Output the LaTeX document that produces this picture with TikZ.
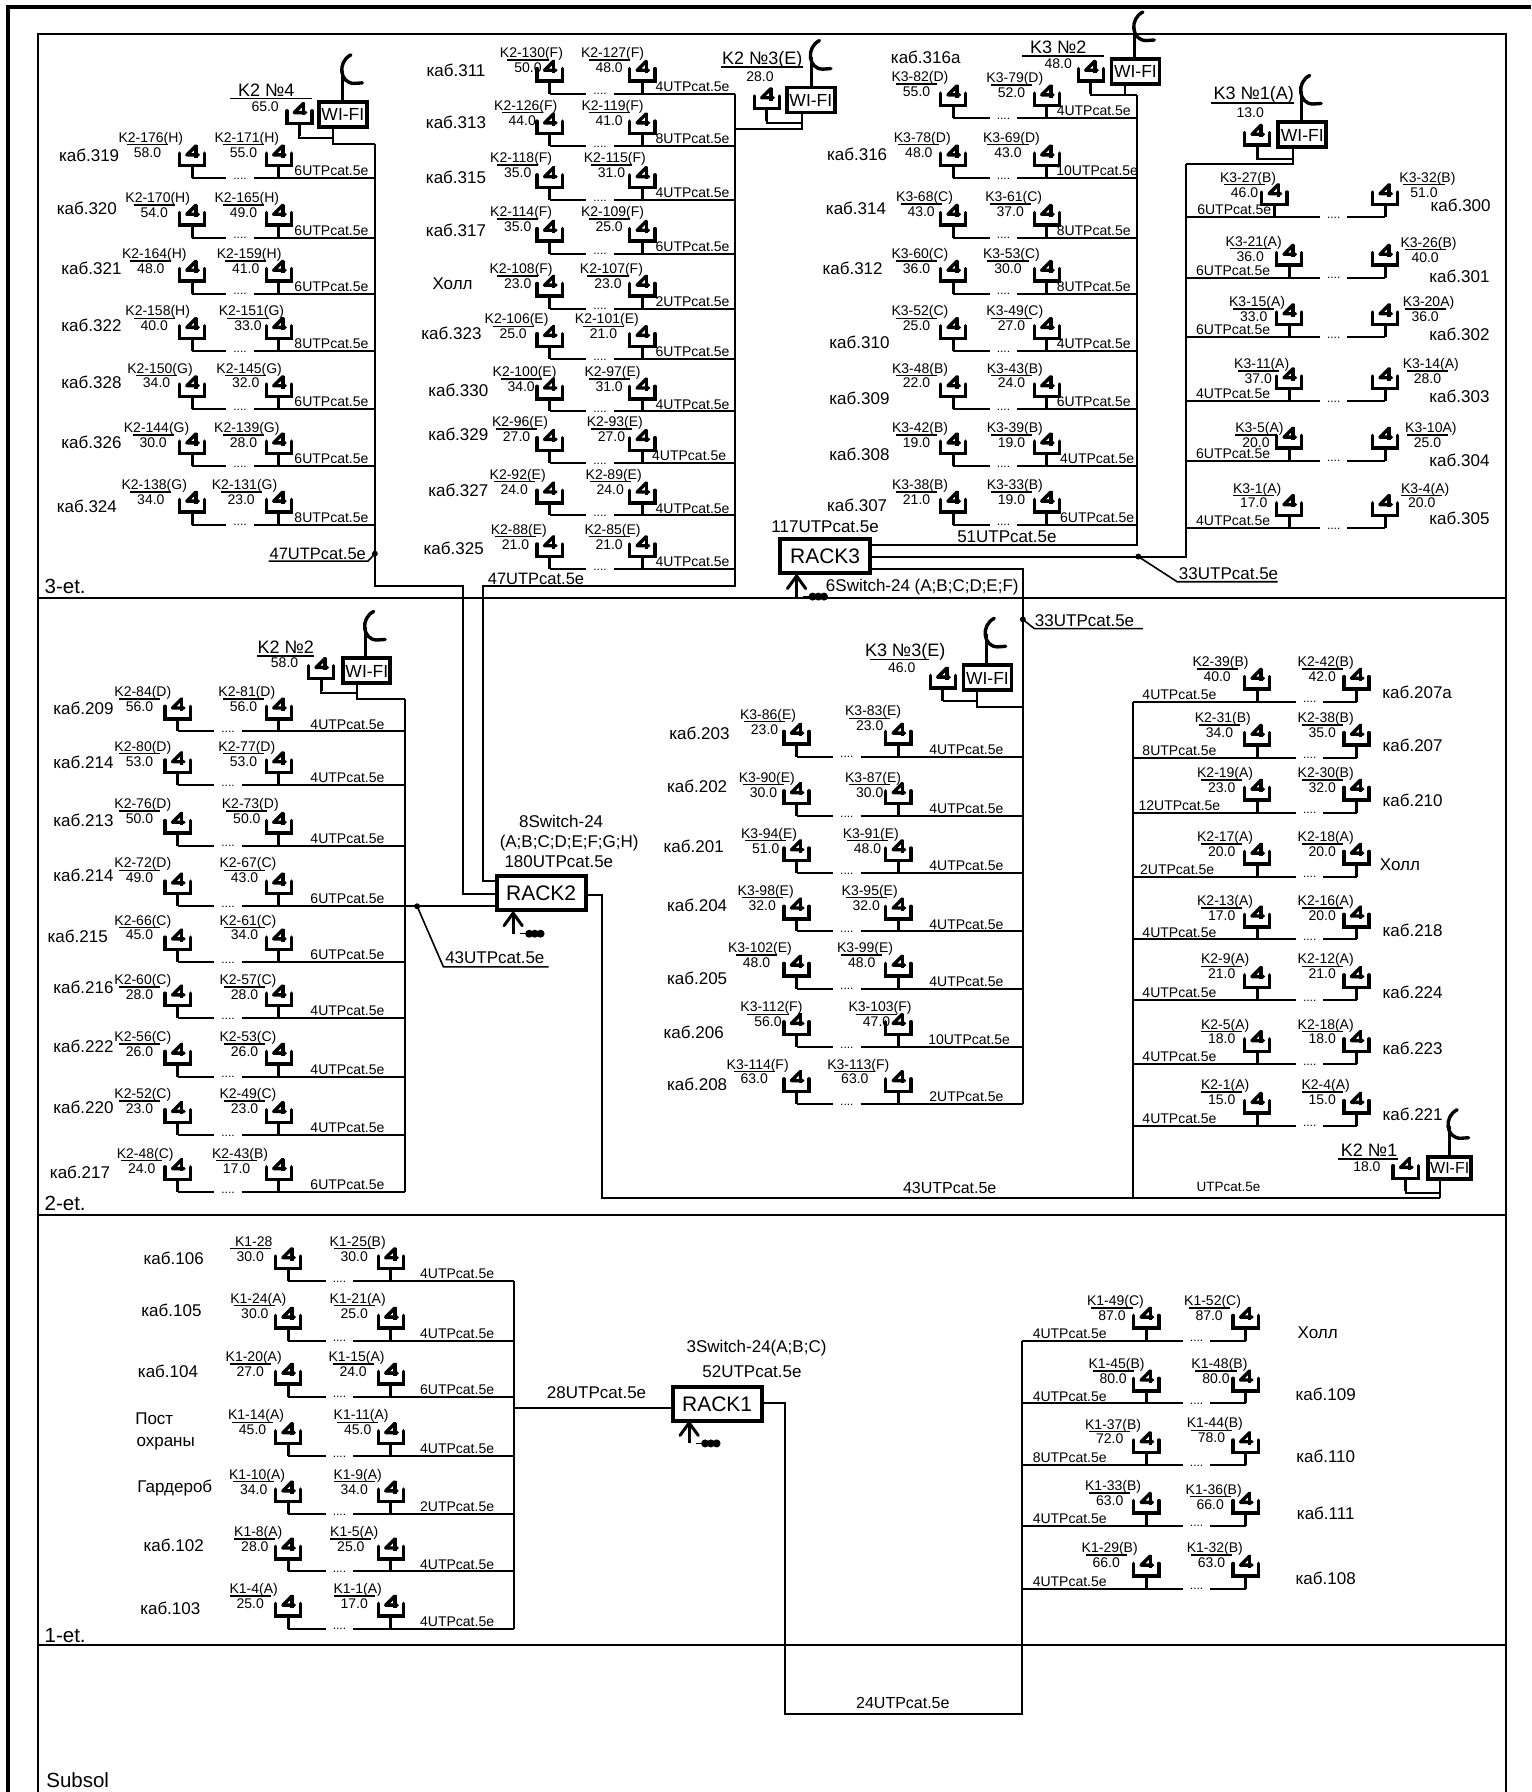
\documentclass[tikz,border=0pt]{standalone}
\usepackage{fontspec}
\setmainfont{Liberation Sans}
\tikzset{
 txt/.style={inner sep=0pt,text height=0.72*#1 pt,text depth=0pt,font=\fontsize{#1}{#1}\selectfont},
 rowline/.style={line width=2pt},
 trunk/.style={line width=2.1pt,line join=miter},
 wire/.style={line width=2.1pt,line join=miter},
 under/.style={line width=1.5pt},
 frame/.style={line width=2pt},
 boxn/.style 2 args={draw,line width=3.8pt,fill=white,inner sep=0pt,minimum width=#1 pt,minimum height=#2 pt},
 sock/.pic={
  \draw[line width=3.5pt,line cap=round,line join=miter] (-11,-22)--(-11,-11)--(11,-11)--(11,-22);
  \draw[line width=3pt] (0,-11)--(0,0);
  \draw[line width=3.4pt,line join=round,line cap=round] (3.5,-28.5)--(-4.5,-20.5)--(5.5,-20.5);
  \draw[line width=3.4pt,line cap=butt] (3.5,-29)--(3.5,-18);
 },
 antenna/.pic={
  \draw[line width=3.2pt] (0,0)--(0,-26);
  \draw[line width=3.4pt,line cap=round] (7,-40) .. controls (-5,-34) and (-3,-15) .. (10,-15) -- (17,-15.5);
 },
 upbar/.pic={
  \draw[line width=3pt] (0,0)--(0,-18);
  \draw[line width=3pt,line cap=round] (-8,-7)--(0,-18)--(8,-7);
  \draw[line width=.9pt] (6,0)--(11,0);
  \fill (14,0) circle (3.5) (19,0) circle (3.5) (24,0) circle (3.5);
 }
}
\newcommand\onerow{%
 \coordinate (\blk\i s) at (\startx,\y);
 \coordinate (\blk\i e) at (\endx,\y);
 \coordinate (\blk\i gl) at (\gapc-12,\y);
 \coordinate (\blk\i gr) at (\gapc+12,\y);
 \draw[rowline] (\blk\i s)--(\blk\i gl) (\blk\i gr)--(\blk\i e);
 \node[txt=12,text height=0pt,anchor=base] (\blk\i dots) at (\gapc,\y+1) {....};
 \pic at (\ax,\y) {sock};
 \pic at (\bx,\y) {sock};
 \node[txt=14] (\blk\i la) at (\alx,\aly) {\alt};
 \node[txt=14] (\blk\i va) at (\alx-3,\aly+13) {\av};
 \draw[under] (\alx-21,\aly+6.5)--(\alx+15,\aly+6.5);
 \node[txt=14] (\blk\i lb) at (\blx,\bly) {\blt};
 \node[txt=14] (\blk\i vb) at (\blx-3,\bly+13) {\bv};
 \draw[under] (\blx-21,\bly+6.5)--(\blx+15,\bly+6.5);
 \node[txt=17] (\blk\i r) at (\rmx,\rmy) {\rmn};
 \node[txt=14] (\blk\i c) at (\cx,\y-6.5) {\cab};
}
\newcommand\rows[2]{\def\gapc{#1}%
 \foreach \y/\ax/\alx/\aly/\alt/\av/\bx/\blx/\bly/\blt/\bv/\rmn/\rmx/\rmy/\cab/\cx [count=\i] in {#2} {\onerow}}
\newcommand\blockR[4]{\def\blk{#1}\def\startx{\ax}\def\endx{#3}\rows{#2}{#4}}
\newcommand\blockL[4]{\def\blk{#1}\def\startx{#3}\def\endx{\bx}\rows{#2}{#4}}
\newcommand\cu{UTPcat.5e}
\begin{document}
\begin{tikzpicture}[x=1.14328pt,y=-1.14328pt]
\useasboundingbox (0,0) rectangle (1340,1568);
% frames
\coordinate (o1) at (7,1568); \coordinate (o2) at (7,6); \coordinate (o3) at (1340,6);
\draw[line width=4.2pt,line join=miter] (o1)--(o2)--(o3);
\coordinate (f1) at (33.5,1568); \coordinate (f2) at (33.5,29.5); \coordinate (f3) at (1318,29.5); \coordinate (f4) at (1318,1568);
\draw[frame] (f1)--(f2)--(f3)--(f4);
\foreach \fy in {523,1063,1439}{\coordinate (fl\fy) at (33.5,\fy); \coordinate (fr\fy) at (1318,\fy); \draw[frame] (fl\fy)--(fr\fy);}
\node[txt=20.5] (et3) at (57,513) {3-et.};
\node[txt=20.5] (et2) at (57,1053) {2-et.};
\node[txt=20.5] (et1) at (57,1431) {1-et.};
\node[txt=20.5] (et0) at (68,1558) {Subsol};

% block A
\blockR{A}{210}{328}{
156/168/132/120/K2-176(H)/58.0/244/216/120/K2-171(H)/55.0/каб.319/78/136/6\cu/290,
208/168/138/173/K2-170(H)/54.0/244/216/173/K2-165(H)/49.0/каб.320/76/182/6\cu/290,
257/168/135/222/K2-164(H)/48.0/244/218/222/K2-159(H)/41.0/каб.321/80/235/6\cu/290,
307/168/138/272/K2-158(H)/40.0/244/220/272/K2-151(G)/33.0/каб.322/80/285/8\cu/290,
358/168/140/322/K2-150(G)/34.0/244/218/322/K2-145(G)/32.0/каб.328/80/335/6\cu/290,
408/168/137/374/K2-144(G)/30.0/244/216/374/K2-139(G)/28.0/каб.326/80/387/6\cu/290,
459/168/135/424/K2-138(G)/34.0/244/214/424/K2-131(G)/23.0/каб.324/76/443/8\cu/290}
% block B
\blockR{B}{525}{643}{
82/481/465/46/K2-130(F)/50.0/562/536/46/K2-127(F)/48.0/каб.311/399/62/4\cu/606,
128/481/460/92/K2-126(F)/44.0/562/536/92/K2-119(F)/41.0/каб.313/399/107/8\cu/606,
175/481/456/138/K2-118(F)/35.0/562/538/138/K2-115(F)/31.0/каб.315/399/155/4\cu/606,
222/481/456/185/K2-114(F)/35.0/562/536/185/K2-109(F)/25.0/каб.317/399/202/6\cu/606,
270/481/456/235/K2-108(F)/23.0/562/535/235/K2-107(F)/23.0/Холл/396/248/2\cu/606,
314/481/452/279/K2-106(E)/25.0/562/531/279/K2-101(E)/21.0/каб.323/395/292/6\cu/606,
360/481/459/325/K2-100(E)/34.0/562/536/325/K2-97(E)/31.0/каб.330/401/342/4\cu/606,
405/481/455/369/K2-96(E)/27.0/562/538/369/K2-93(E)/27.0/каб.329/401/380/4\cu/603,
451/481/453/415/K2-92(E)/24.0/562/537/415/K2-89(E)/24.0/каб.327/401/429/4\cu/606,
498/481/454/463/K2-88(E)/21.0/562/536/463/K2-85(E)/21.0/каб.325/397/480/4\cu/606}
% block C
\blockR{C}{878}{995}{
103.5/834/805/67/K3-82(D)/55.0/916/888/68/K3-79(D)/52.0/каб.316а/810/50/4\cu/957,
156/834/807/120/K3-78(D)/48.0/916/885/120/K3-69(D)/43.0/каб.316/750/135/10\cu/960,
208/834/809/172/K3-68(C)/43.0/916/887/172/K3-61(C)/37.0/каб.314/749/182/8\cu/957,
257/834/805/222/K3-60(C)/36.0/916/885/222/K3-53(C)/30.0/каб.312/746/235/8\cu/957,
307/834/805/272/K3-52(C)/25.0/916/888/272/K3-49(C)/27.0/каб.310/752/300/4\cu/957,
358/834/805/322/K3-48(B)/22.0/916/888/322/K3-43(B)/24.0/каб.309/752/349/6\cu/957,
408/834/805/374/K3-42(B)/19.0/916/888/374/K3-39(B)/19.0/каб.308/752/398/4\cu/960,
459/834/805/424/K3-38(B)/21.0/916/888/424/K3-33(B)/19.0/каб.307/750/442/6\cu/960}
% block D
\blockL{D}{1167}{1038}{
190/1115/1092/155/K3-27(B)/46.0/1212/1249/155/K3-32(B)/51.0/каб.300/1278/180/6\cu/1080,
243/1128/1097/211/K3-21(A)/36.0/1212/1250/212/K3-26(B)/40.0/каб.301/1277/242/6\cu/1079,
295/1128/1100/264/K3-15(A)/33.0/1212/1250/264/K3-20A)/36.0/каб.302/1277/293/6\cu/1079,
351/1128/1104/318/K3-11(A)/37.0/1212/1252/318/K3-14(A)/28.0/каб.303/1277/347/4\cu/1079,
403/1128/1102/374/K3-5(A)/20.0/1212/1252/374/K3-10A)/25.0/каб.304/1277/403/6\cu/1079,
462/1128/1100/427/K3-1(A)/17.0/1212/1247/427/K3-4(A)/20.0/каб.305/1277/454/4\cu/1079}
% block E
\blockR{E}{199.5}{354}{
640/155.5/125/605/K2-84(D)/56.0/244/216/605/K2-81(D)/56.0/каб.209/73/620/4\cu/304,
687/155.5/125/653/K2-80(D)/53.0/244/216/653/K2-77(D)/53.0/каб.214/73/667/4\cu/304,
740/155.5/125/703/K2-76(D)/50.0/244/219/703/K2-73(D)/50.0/каб.213/73/718/4\cu/304,
793/155.5/125/755/K2-72(D)/49.0/244/217/755/K2-67(C)/43.0/каб.214/73/766/6\cu/304,
842/155.5/125/805/K2-66(C)/45.0/244/217/805/K2-61(C)/34.0/каб.215/68/819/6\cu/304,
891/155.5/125/857/K2-60(C)/28.0/244/217/857/K2-57(C)/28.0/каб.216/73/864/4\cu/304,
942/155.5/125/907/K2-56(C)/26.0/244/217/907/K2-53(C)/26.0/каб.222/73/916/4\cu/304,
993/155.5/125/957/K2-52(C)/23.0/244/217/957/K2-49(C)/23.0/каб.220/73/969/4\cu/304,
1043/155.5/127/1009/K2-48(C)/24.0/244/210/1009/K2-43(B)/17.0/каб.217/70/1026/6\cu/304}
% block F
\blockR{F}{741}{895}{
662/697/672/625/K3-86(E)/23.0/786/764/622/K3-83(E)/23.0/каб.203/612/642/4\cu/845.6,
714/697/671/680/K3-90(E)/30.0/786/764/680/K3-87(E)/30.0/каб.202/610/688/4\cu/845.6,
764/697/673/729/K3-94(E)/51.0/786/762/729/K3-91(E)/48.0/каб.201/607/741/4\cu/845.6,
815/697/670/779/K3-98(E)/32.0/786/761/779/K3-95(E)/32.0/каб.204/610/792/4\cu/845.6,
865/697/665/829/K3-102(E)/48.0/786/757/829/K3-99(E)/48.0/каб.205/610/856/4\cu/845.6,
916/697/675/881/K3-112(F)/56.0/786/770/881/K3-103(F)/47.0/каб.206/607/903/10\cu/848,
966/697/663/931/K3-114(F)/63.0/786/751/931/K3-113(F)/63.0/каб.208/610/949/2\cu/845.6}
% block G
\blockL{G}{1146}{991}{
614/1100/1068/579/K2-39(B)/40.0/1187/1160/579/K2-42(B)/42.0/каб.207а/1240/606/4\cu/1032,
663/1100/1070/628/K2-31(B)/34.0/1187/1160/628/K2-38(B)/35.0/каб.207/1236/652/8\cu/1032,
711/1100/1072/676/K2-19(A)/23.0/1187/1160/676/K2-30(B)/32.0/каб.210/1236/700/12\cu/1032,
767/1100/1072/732/K2-17(A)/20.0/1187/1160/732/K2-18(A)/20.0/Холл/1225/756/2\cu/1030,
822/1100/1072/788/K2-13(A)/17.0/1187/1160/788/K2-16(A)/20.0/каб.218/1236/814/4\cu/1032,
875/1100/1072/839/K2-9(A)/21.0/1187/1160/839/K2-12(A)/21.0/каб.224/1236/868/4\cu/1032,
931/1100/1072/896/K2-5(A)/18.0/1187/1160/896/K2-18(A)/18.0/каб.223/1236/917/4\cu/1032,
985/1100/1072/949/K2-1(A)/15.0/1187/1160/949/K2-4(A)/15.0/каб.221/1236/975/4\cu/1032}
% block H
\blockR{H}{297}{450}{
1121/252/222/1086/K1-28/30.0/342/313/1086/K1-25(B)/30.0/каб.106/152/1101/4\cu/400,
1173/252/226/1136/K1-24(A)/30.0/342/313/1136/K1-21(A)/25.0/каб.105/150/1147/4\cu/400,
1222/252/222/1187/K1-20(A)/27.0/342/312/1187/K1-15(A)/24.0/каб.104/147/1200/6\cu/400,
1274/252/224/1238/K1-14(A)/45.0/342/316/1238/K1-11(A)/45.0/Пост/135/1241/4\cu/400,
1325/252/225/1290/K1-10(A)/34.0/342/313/1290/K1-9(A)/34.0/Гардероб/153/1301/2\cu/400,
1375/252/226/1340/K1-8(A)/28.0/342/310/1340/K1-5(A)/25.0/каб.102/152/1352/4\cu/400,
1425/252/222/1390/K1-4(A)/25.0/342/313/1390/K1-1(A)/17.0/каб.103/149/1407/4\cu/400}
\node[txt=17] (post2) at (145,1260) {охраны};
% block I
\blockL{I}{1047}{894}{
1173/1003/976/1138/K1-49(C)/87.0/1090/1061/1138/K1-52(C)/87.0/Холл/1153/1166/4\cu/936,
1228/1003/977/1193/K1-45(B)/80.0/1090/1067/1193/K1-48(B)/80.0/каб.109/1160/1220/4\cu/936,
1282/1003/974/1246/K1-37(B)/72.0/1090/1063/1245/K1-44(B)/78.0/каб.110/1160/1274/8\cu/936,
1335/1003/974/1300/K1-33(B)/63.0/1090/1062/1303/K1-36(B)/66.0/каб.111/1160/1324/4\cu/936,
1390/1003/971/1354/K1-29(B)/66.0/1090/1063/1354/K1-32(B)/63.0/каб.108/1160/1381/4\cu/936}

% racks
\node[boxn={90}{34}] (rack3) at (722,486.5) {};
\node[boxn={89}{34}] (rack2) at (473.5,781.5) {};
\node[boxn={89}{34}] (rack1) at (627.5,1228.5) {};
\node[txt=21] (rack3t) at (722,486.5) {RACK3};
\node[txt=21] (rack2t) at (473.5,781.5) {RACK2};
\node[txt=21] (rack1t) at (627.5,1228.5) {RACK1};
\pic at (697,522) {upbar};
\pic at (449,817) {upbar};
\pic at (603,1263) {upbar};
\node[txt=17] (r3a) at (722,461) {117\cu};
\node[txt=17] (r3b) at (807,512) {6Switch-24 (A;B;C;D;E;F)};
\node[txt=17] (r2a) at (491,719) {8Switch-24};
\node[txt=17] (r2b) at (498,736) {(A;B;C;D;E;F;G;H)};
\node[txt=17] (r2c) at (489,754) {180\cu};
\node[txt=17] (r1a) at (662,1178) {3Switch-24(A;B;C)};
\node[txt=17] (r1b) at (658,1200) {52\cu};

% rack3 trunks
\coordinate (r3t) at (763,477); \coordinate (r3m) at (763,487); \coordinate (r3l) at (763,498);
\coordinate (ctop) at (995,83); \coordinate (cbot) at (995,477);
\draw[trunk] (ctop)--(cbot)--(r3t);
\coordinate (dtop) at (1038,143.5); \coordinate (dbot) at (1038,487);
\draw[trunk] (r3m)--(dbot)--(dtop);
\coordinate (fc) at (895,498); \coordinate (fbot) at (895,966);
\draw[trunk] (r3l)--(fc)--(fbot);
\node[txt=17] (l51) at (881,469) {51\cu};
% 33 labels
\coordinate (d33) at (996,487); \coordinate (d33b) at (1030,509); \coordinate (d33c) at (1118,509);
\fill (d33) circle (2.6);
\draw[wire,line width=1.6pt] (d33)--(d33b)--(d33c);
\node[txt=17] (l33a) at (1075,502) {33\cu};
\coordinate (e33) at (895,542); \coordinate (e33b) at (905,550); \coordinate (e33c) at (1000,550);
\fill (e33) circle (2.6);
\draw[wire,line width=1.6pt] (e33)--(e33b)--(e33c);
\node[txt=17] (l33b) at (949,543) {33\cu};

% block A trunk to rack2
\coordinate (atop) at (328,126); \coordinate (a47) at (328,484.5); \coordinate (ab1) at (328,513);
\coordinate (ab2) at (405,513); \coordinate (ab3) at (405,782); \coordinate (ab4) at (433,782);
\draw[trunk] (atop)--(ab1)--(ab2)--(ab3)--(ab4);
\fill (a47) circle (2.6);
\coordinate (u47a) at (235,491); \coordinate (u47b) at (322,491);
\draw[wire,line width=1.6pt] (u47a)--(u47b)--(a47);
\node[txt=16.5] (l47a) at (278,484) {47\cu};
% block B trunk to rack2
\coordinate (btop) at (643,82); \coordinate (bb1) at (643,513); \coordinate (bb2) at (423,513);
\coordinate (bb3) at (423,771); \coordinate (bb4) at (433,771);
\draw[trunk] (btop)--(bb1)--(bb2)--(bb3)--(bb4);
\node[txt=16.5] (l47b) at (469,506) {47\cu};
% block E
\coordinate (etop) at (354,611.5); \coordinate (ebot) at (354,1043);
\draw[trunk] (etop)--(ebot);
\coordinate (e0) at (354,793); \coordinate (e1) at (433,793);
\draw[trunk] (e0)--(e1);
\coordinate (e43) at (365,793); \coordinate (e43b) at (388,846); \coordinate (e43c) at (480,846);
\fill (e43) circle (2.6);
\draw[wire,line width=1.6pt] (e43)--(e43b)--(e43c);
\node[txt=17] (l43a) at (433,838) {43\cu};
% rack2 to G
\coordinate (g0) at (514,783); \coordinate (g1) at (527,783); \coordinate (g2) at (527,1048.5);
\coordinate (g3) at (1260,1048.5); \coordinate (gtop) at (991,614); \coordinate (gbot) at (991,1048.5);
\draw[trunk] (g0)--(g1)--(g2)--(g3);
\draw[trunk] (gtop)--(gbot);
\node[txt=16] (l43b) at (831,1039) {43\cu};
\node[txt=13.5] (lu) at (1075,1038) {\cu};
% rack1
\coordinate (htop) at (450,1121); \coordinate (hbot) at (450,1425);
\draw[trunk] (htop)--(hbot);
\coordinate (h0) at (450,1232); \coordinate (h1) at (588,1232);
\draw[trunk] (h0)--(h1);
\node[txt=17] (l28) at (522,1218) {28\cu};
\coordinate (i0) at (667,1228); \coordinate (i1) at (687,1228); \coordinate (i2) at (687,1500);
\coordinate (i3) at (894,1500); \coordinate (i4) at (894,1173);
\draw[trunk] (i0)--(i1)--(i2)--(i3)--(i4);
\node[txt=16] (l24) at (790,1490) {24\cu};

% WI-FI K2 No4
\node[boxn={48}{25}] (w24) at (300,100) {};
\node[txt=17.5] (w24t) at (300,100) {WI-FI};
\pic at (300,88) {antenna};
\pic at (262,119) {sock};
\node[txt=18] (w24l) at (233,79) {K2 №4};
\node[txt=14] (w24v) at (232,93) {65.0};
\draw[under] (201,86)--(273,86);
\coordinate (w24a) at (262,119); \coordinate (w24b) at (262,121); \coordinate (w24c) at (291,121);
\coordinate (w24d) at (291,112); \coordinate (w24e) at (291,126);
\draw[wire] (w24a)--(w24b)--(w24c); \draw[wire] (w24d)--(w24e)--(atop);
% WI-FI K2 No3
\node[boxn={48}{25}] (w23) at (709.5,87.5) {};
\node[txt=17.5] (w23t) at (709.5,87.5) {WI-FI};
\pic at (710,75.5) {antenna};
\pic at (671,106) {sock};
\node[txt=18] (w23l) at (667,51) {K2 №3(E)};
\node[txt=14] (w23v) at (665,66.5) {28.0};
\draw[under] (631,58.5)--(703,58.5);
\coordinate (w23a) at (671,106); \coordinate (w23b) at (671,108); \coordinate (w23c) at (701.5,108);
\coordinate (w23d) at (701.5,100); \coordinate (w23e) at (701.5,113); \coordinate (w23f) at (643,113);
\draw[wire] (w23a)--(w23b)--(w23c); \draw[wire] (w23d)--(w23e)--(w23f);
% WI-FI K3 No2
\node[boxn={48}{25}] (w32) at (993.5,62.5) {};
\node[txt=17.5] (w32t) at (993.5,62.5) {WI-FI};
\pic at (993,50.5) {antenna};
\pic at (954.5,82) {sock};
\node[txt=18] (w32l) at (926,41) {K3 №2};
\node[txt=14] (w32v) at (926,55.5) {48.0};
\draw[under] (894,49)--(966,49);
\coordinate (w32a) at (954.5,82); \coordinate (w32b) at (954.5,83); \coordinate (w32d) at (984,75);
\coordinate (w32e) at (984,83);
\draw[wire] (w32a)--(w32b)--(ctop); \draw[wire] (w32d)--(w32e);
% WI-FI K3 No1
\node[boxn={48}{25}] (w31) at (1139.5,118) {};
\node[txt=17.5] (w31t) at (1139.5,118) {WI-FI};
\pic at (1139,106) {antenna};
\pic at (1100,138) {sock};
\node[txt=18] (w31l) at (1097,81.5) {K3 №1(A)};
\node[txt=14] (w31v) at (1094,98) {13.0};
\draw[under] (1060,90)--(1132,90);
\coordinate (w31a) at (1100,138); \coordinate (w31b) at (1100,139); \coordinate (w31c) at (1131,139);
\coordinate (w31d) at (1131,130); \coordinate (w31e) at (1131,143.5);
\draw[wire] (w31a)--(w31b)--(w31c); \draw[wire] (w31d)--(w31e)--(dtop);
% WI-FI K2 No2
\node[boxn={47}{25}] (w22) at (321,587) {};
\node[txt=17.5] (w22t) at (321,587) {WI-FI};
\pic at (320,575) {antenna};
\pic at (281,604.5) {sock};
\node[txt=18] (w22l) at (250,566) {K2 №2};
\node[txt=14] (w22v) at (249,580) {58.0};
\draw[under] (225,574)--(275,574);
\coordinate (w22a) at (281,604.5); \coordinate (w22b) at (281,606.5); \coordinate (w22c) at (312,606.5);
\coordinate (w22d) at (312,598); \coordinate (w22e) at (312,611.5);
\draw[wire] (w22a)--(w22b)--(w22c); \draw[wire] (w22d)--(w22e)--(etop);
% WI-FI K3 No3
\node[boxn={48}{25}] (w33) at (864,593) {};
\node[txt=17.5] (w33t) at (864,593) {WI-FI};
\pic at (863,581) {antenna};
\pic at (825,613) {sock};
\node[txt=18] (w33l) at (792,568.5) {K3 №3(E)};
\node[txt=14] (w33v) at (789,584) {46.0};
\draw[under] (761,577)--(813,577);
\coordinate (w33a) at (825,613); \coordinate (w33b) at (855,613); \coordinate (w33d) at (855,605);
\coordinate (w33e) at (855,619); \coordinate (w33f) at (895,619);
\draw[wire] (w33a)--(w33b); \draw[wire] (w33d)--(w33e)--(w33f);
% WI-FI K2 No1
\node[boxn={43}{22}] (w21) at (1268.5,1022) {};
\node[txt=16] (w21t) at (1268.5,1022) {WI-FI};
\pic at (1268,1011) {antenna};
\pic at (1230,1042) {sock};
\node[txt=18] (w21l) at (1198,1006) {K2 №1};
\node[txt=14] (w21v) at (1196,1021) {18.0};
\draw[under] (1171,1014)--(1223,1014);
\coordinate (w21a) at (1230,1042); \coordinate (w21b) at (1230,1043.5); \coordinate (w21c) at (1260,1043.5);
\coordinate (w21d) at (1260,1033);
\draw[wire] (w21a)--(w21b)--(w21c); \draw[wire] (w21d)--(g3);
\end{tikzpicture}
\end{document}
